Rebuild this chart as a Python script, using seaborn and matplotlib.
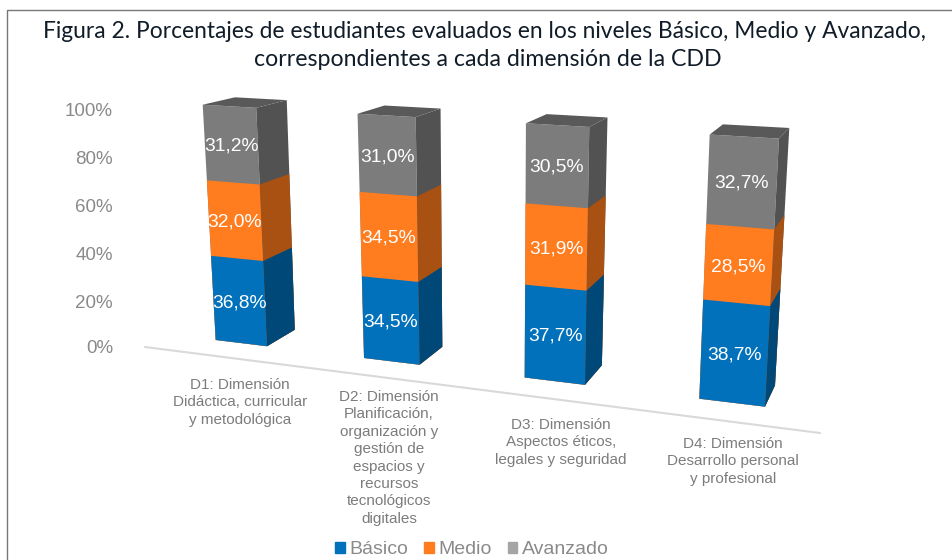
import numpy as np
import matplotlib
matplotlib.use("Agg")
import matplotlib.pyplot as plt
from matplotlib.lines import Line2D
from matplotlib.patches import Patch, Polygon
from matplotlib.transforms import Affine2D, Transform
import seaborn as sns

dimensions = [
    "D1: Dimensión\nDidáctica, curricular\ny metodológica",
    "D2: Dimensión\nPlanificación,\norganización y\ngestión de\nespacios y\nrecursos\ntecnológicos\ndigitales",
    "D3: Dimensión\nAspectos éticos,\nlegales y seguridad",
    "D4: Dimensión\nDesarrollo personal\ny profesional",
]
basico = [36.8, 34.5, 37.7, 38.7]
medio = [32.0, 34.5, 31.9, 28.5]
avanzado = [31.2, 31.0, 30.5, 32.7]
levels = ["Básico", "Medio", "Avanzado"]
y_ticks = [0, 20, 40, 60, 80, 100]

front_colors = ["#0071BA", "#FF7C1F", "#7C7C7C"]
side_colors = ["#004878", "#A85112", "#525252"]
top_color = "#595959"
label_grey = "#8A8A8A"
cat_grey = "#7C7C7C"

bar_w = 0.355
W, H = 952, 560

# plane corners in image pixels, this is what gives the 3d look
front_px = [(215.7, 340), (765, 406.7), (779, 138.3), (202.7, 104.7)]
back_px = [(245, 324), (775, 385.3), (789.3, 127.7), (235, 97.3)]
tick_y_px = [348.5, 303, 256, 208, 160, 111]
cat_px = [(240, 378), (389, 390), (561, 418), (733, 437)]


def homography(dst):
    src = [(-bar_w / 2, 0), (3 + bar_w / 2, 0), (3 + bar_w / 2, 100), (-bar_w / 2, 100)]
    A, b = [], []
    for (x, y), (u, v) in zip(src, dst):
        A.append([x, y, 1, 0, 0, 0, -u * x, -u * y])
        A.append([0, 0, 0, x, y, 1, -v * x, -v * y])
        b += [u, v]
    return np.append(np.linalg.solve(np.array(A), np.array(b)), 1).reshape(3, 3)


class PlaneTransform(Transform):
    input_dims = 2
    output_dims = 2

    def __init__(self, matrix):
        super().__init__()
        self.matrix = matrix

    def transform_non_affine(self, values):
        values = np.asarray(values, dtype=float)
        p = np.c_[values, np.ones(len(values))] @ self.matrix.T
        return p[:, :2] / p[:, 2:]


sns.set_theme(style="white")
plt.rcParams["font.family"] = ["Liberation Sans", "DejaVu Sans"]

front = PlaneTransform(homography(front_px))
back = PlaneTransform(homography(back_px))
pix = Affine2D().scale(1, -1).translate(0, H)

fig = plt.figure(figsize=(W / 100, H / 100), dpi=100)
ax = fig.add_axes([0, 0, 1, 1])

# frame round the picture
fig.add_artist(Line2D([7, 7, W], [H, 10, 10], color="#777777", lw=1, transform=pix))

# floor line
ax.plot([145, 820], [347, 433], color="#D9D9D9", lw=1.5, transform=pix, clip_on=False)

cum1 = np.array(basico)
cum2 = cum1 + np.array(medio)
cum3 = cum2 + np.array(avanzado)
stacks = [cum3, cum2, cum1]


def side_face(x, top):
    a = front.transform([[x, 0], [x, top]])
    b = back.transform([[x, top], [x, 0]])
    return np.vstack([a, b])


# tallest first, the shorter ones paint over it
for tops, col, side in zip(stacks, front_colors[::-1], side_colors[::-1]):
    n = len(ax.patches)
    sns.barplot(x=list(range(4)), y=tops, color=col, width=bar_w, saturation=1,
                linewidth=0, ax=ax, native_scale=True)
    for bar in ax.patches[n:]:
        x1 = bar.get_x() + bar.get_width()
        ax.add_patch(Polygon(side_face(x1, bar.get_height()), closed=True, fc=side,
                             lw=0, transform=pix, clip_on=False, zorder=bar.get_zorder()))
        bar.set_transform(front + pix)
        bar.set_clip_on(False)
        if tops is cum3:
            x0 = bar.get_x()
            h = bar.get_height()
            top_face = np.vstack([front.transform([[x0, h], [x1, h]]),
                                  back.transform([[x1, h], [x0, h]])])
            ax.add_patch(Polygon(top_face, closed=True, fc=top_color, lw=0,
                                 transform=pix, clip_on=False))

# data labels
bottoms = [np.zeros(4), cum1, cum2]
nudge = Affine2D().translate(0, -1.5)
for vals, bot in zip([basico, medio, avanzado], bottoms):
    for i, v in enumerate(vals):
        ax.text(i, bot[i] + v / 2, f"{v:.1f}%".replace(".", ","), color="white",
                fontsize=13.9, ha="center", va="center", transform=front + pix + nudge)

ax.axis("off")

for t, y in zip(y_ticks, tick_y_px):
    ax.text(113, y, f"{t}%", color=label_grey, fontsize=13.5, ha="right", va="center", transform=pix)

for name, (x, y) in zip(dimensions, cat_px):
    ax.text(x, y, name, color=cat_grey, fontsize=11, ha="center", va="top",
            linespacing=1.31, transform=pix)

ax.text(484.5, 32, "Figura 2. Porcentajes de estudiantes evaluados en los niveles Básico, Medio y Avanzado,",
        family="Lato", fontsize=16.4, color="#101C28", ha="center", va="center", transform=pix)
ax.text(487.5, 59, "correspondientes a cada dimensión de la CDD",
        family="Lato", fontsize=16.7, color="#101C28", ha="center", va="center", transform=pix)

handles = [Patch(color=c, label=l) for c, l in zip(["#0071BA", "#FF7C1F", "#A5A5A5"], levels)]
fig.legend(handles=handles, loc="center", bbox_to_anchor=(472 / W, 1 - 550 / H), ncol=3,
           frameon=False, fontsize=14, labelcolor=label_grey, handlelength=0.5, handleheight=0.5,
           handletextpad=0.25, columnspacing=0.8)

fig.savefig("out.png", dpi=100)
